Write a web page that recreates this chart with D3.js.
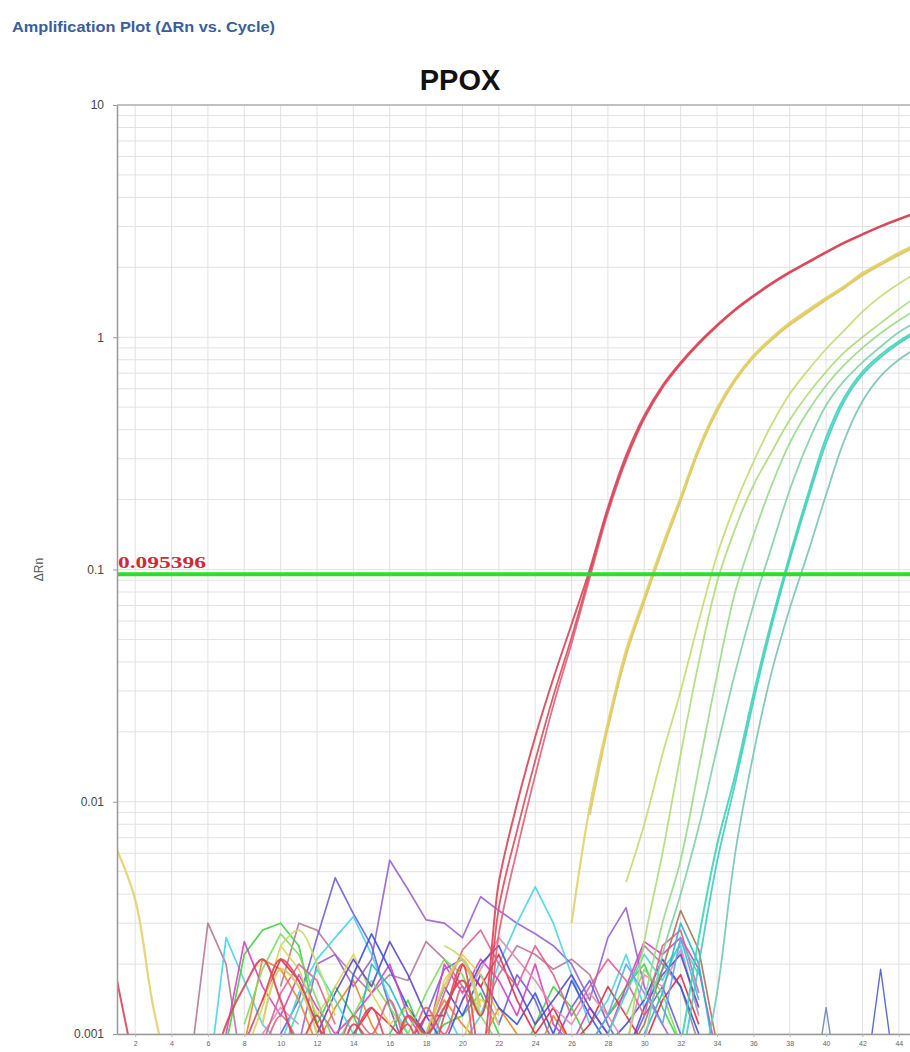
<!DOCTYPE html>
<html>
<head>
<meta charset="utf-8">
<script src="https://cdn.jsdelivr.net/npm/d3@7"></script>
<style>
  body { margin: 0; background: #fff; }
  svg { display: block; font-family: "Liberation Sans", Arial, sans-serif; }
</style>
</head>
<body>
<div id="amp_plot"></div>
<script>
// null = negative dRn (no point on a log axis)
var _ = null;

var cycles = [1,2,3,4,5,6,7,8,9,10,11,12,13,14,15,16,17,18,19,20,21,22,23,24,25,26,27,28,29,30,
              31,32,33,34,35,36,37,38,39,40,41,42,43,44,45];
var xTickValues = [2,4,6,8,10,12,14,16,18,20,22,24,26,28,30,32,34,36,38,40,42,44];
var yTickValues = [0.001, 0.01, 0.1, 1, 10];
var yTickLabels = ["0.001", "0.01", "0.1", "1", "10"];
var threshold = 0.095396;
var thresholdLabel = "0.095396";
var target = "PPOX";

// amplified wells (cycles 1-15 / 16-30 / 31-45)
var red1 = [0.0017,0.0007,_,_,_,0.0006,0.0011,0.0016,0.0021,0.0014,0.0009,0.0012,0.0007,0.0011,0.0009,
            0.0008,0.0012,0.0010,0.0013,0.0017,0.0012,0.0045,0.0098,0.019,0.034,0.058,0.100,0.185,0.31,0.46,
            0.62,0.78,0.95,1.13,1.32,1.51,1.71,1.91,2.11,2.33,2.56,2.78,3.01,3.23,3.45];
var red2 = [_,_,0.0013,_,_,_,_,0.0009,0.0014,0.0021,0.0017,0.0011,0.0008,0.0010,0.0013,
            0.0009,0.0011,0.0007,0.0012,0.0020,0.0008,0.0035,0.0075,0.0150,0.0285,0.051,0.096,0.18,0.30,0.45,
            0.61,0.77,0.94,1.12,1.31,1.50,1.70,1.90,2.10,2.32,2.55,2.77,3.00,3.22,3.44];
var red3 = [_,_,_,_,_,_,_,_,0.0008,0.0012,0.0009,_,0.0007,0.0012,0.0010,
            0.0014,0.0009,0.0013,0.0010,0.0016,0.0006,0.0027,0.0062,0.013,0.026,0.048,0.092,0.175,0.295,0.445,
            0.605,0.765,0.935,1.115,1.305,1.495,1.69,1.89,2.09,2.31,2.54,2.76,2.99,3.21,3.43];
var yel1 = [0.0062,0.0038,0.0013,0.0006,_,_,_,_,_,_,_,_,_,_,_,
            _,_,_,_,0.0009,0.0014,0.0011,_,_,_,0.0030,0.0095,0.022,0.045,0.076,
            0.127,0.205,0.335,0.495,0.665,0.835,0.995,1.155,1.31,1.48,1.66,1.89,2.09,2.31,2.52];
var yel2 = [_,_,_,_,_,_,_,_,0.0011,0.0019,0.0016,0.0010,_,_,_,
            _,_,0.0010,0.0016,0.0021,0.0013,_,_,_,_,_,0.0088,0.021,0.043,0.073,
            0.122,0.198,0.325,0.48,0.65,0.82,0.975,1.13,1.28,1.45,1.63,1.85,2.05,2.26,2.46];
var yel3 = [_,_,_,_,_,_,_,_,_,_,_,_,_,_,_,
            _,_,_,_,_,_,_,_,_,_,_,_,0.021,0.043,0.074,
            0.124,0.20,0.33,0.487,0.657,0.827,0.985,1.14,1.295,1.465,1.645,1.87,2.07,2.285,2.49];
var grnA = [_,_,_,_,_,_,_,_,_,0.0024,0.0028,0.0020,0.0012,_,_,
            _,_,_,0.0024,0.0021,0.0012,_,_,_,_,_,_,_,0.0045,0.0080,
            0.0160,0.030,0.060,0.115,0.19,0.29,0.42,0.57,0.72,0.89,1.07,1.29,1.50,1.70,1.90];
var grnB = [_,_,_,_,_,_,_,_,_,_,_,_,_,_,_,
            _,_,_,_,_,_,_,_,_,_,_,_,_,0.0008,0.0025,
            0.0060,0.016,0.040,0.088,0.15,0.23,0.32,0.44,0.57,0.71,0.86,1.00,1.15,1.32,1.50];
var grnC = [_,_,_,_,_,_,_,_,_,_,_,_,_,_,_,
            _,_,_,_,_,_,_,_,_,_,_,_,_,_,0.0014,
            0.0030,0.0056,0.014,0.035,0.080,0.14,0.23,0.35,0.48,0.62,0.76,0.90,1.04,1.18,1.32];
var grnD = [_,_,_,_,_,_,_,_,_,_,_,_,_,_,_,
            _,_,_,_,_,_,_,_,_,_,_,_,_,_,0.0009,
            0.0022,0.0040,0.0078,0.017,0.036,0.070,0.125,0.22,0.35,0.51,0.65,0.78,0.91,1.05,1.17];
var teal1 = [_,_,_,_,_,_,_,_,_,_,_,_,_,_,_,
             _,_,_,_,_,_,_,_,_,_,_,_,_,_,_,
             0.0004,0.0009,0.0026,0.0065,0.0130,0.029,0.060,0.115,0.21,0.37,0.55,0.71,0.84,0.96,1.07];
var teal2 = [_,_,_,_,_,_,_,_,_,_,_,_,_,_,_,
             _,_,_,_,_,_,_,_,_,_,_,_,_,_,_,
             _,0.0007,0.0020,0.0055,0.0120,0.027,0.057,0.110,0.20,0.35,0.53,0.69,0.82,0.94,1.05];
var teal3 = [_,_,_,_,_,_,_,_,_,_,_,_,_,_,_,
             _,_,_,_,_,_,_,_,_,_,_,_,_,_,_,
             _,_,0.0006,0.0015,0.0060,0.016,0.036,0.068,0.118,0.21,0.36,0.53,0.68,0.80,0.90];

// non-amplified wells, baseline noise only
var mauve = [_,_,_,_,0.0007,0.0030,0.0020,0.0006,_,0.0016,0.0030,0.0028,0.0022,0.0018,0.0015,
             0.0018,0.0017,0.0025,0.0021,0.0016,0.0012,0.0018,0.0024,0.0022,0.0019,0.0021,0.0018,0.0012,0.0015,0.0024,
             0.0020,0.0016,0.0009,_,_,_,_,_,_,_,_,_,_,_,_];
var purple = [_,_,_,_,_,_,_,_,_,_,0.0009,0.0020,0.0022,0.0016,0.0021,
              0.0056,0.0042,0.0031,0.0030,0.0026,0.0039,0.0034,0.0030,0.0027,0.0024,0.0020,0.0014,0.0026,0.0035,0.0016,
              0.0011,0.0008,_,_,_,_,_,_,_,_,_,_,_,_,_];
var violet = [_,_,_,_,_,_,_,_,_,0.0010,0.0014,0.0026,0.0047,0.0033,0.0024,
              0.0013,0.0008,0.0012,0.0019,0.0021,0.0016,0.0011,0.0018,0.0014,0.0009,0.0013,0.0017,0.0011,0.0008,0.0012,
              0.0016,0.0010,_,_,_,_,_,_,_,_,_,_,_,_,_];
var cyan = [_,_,_,_,_,0.0006,0.0026,0.0017,0.0011,0.0009,0.0015,0.0021,0.0026,0.0032,0.0022,
            0.0014,0.0010,0.0008,0.0013,0.0009,0.0012,0.0020,0.0030,0.0043,0.0030,0.0018,0.0011,0.0014,0.0022,0.0013,
            0.0019,0.0024,0.0012,_,_,_,_,_,_,_,_,_,_,_,_];
var green = [_,_,_,_,_,_,0.0009,0.0022,0.0028,0.0030,0.0024,0.0011,0.0016,0.0012,0.0008,
             0.0010,0.0014,0.0009,0.0011,0.0012,0.0015,0.0010,0.0007,0.0011,0.0016,0.0013,0.0009,0.0012,0.0016,0.0020,
             0.0013,0.0009,_,_,_,_,_,_,_,_,_,_,_,_,_];
var orange = [_,_,_,_,_,_,_,0.0009,0.0021,0.0019,0.0014,0.0009,0.0013,0.0017,0.0011,
              0.0008,0.0012,0.0010,0.0014,0.0011,0.0009,0.0013,0.0010,0.0008,0.0012,0.0009,_,_,_,_,
              _,_,_,_,_,_,_,_,_,_,_,_,_,_,_];
var blue = [_,_,_,_,_,_,_,_,_,_,_,0.0007,0.0009,0.0018,0.0027,
            0.0019,0.0013,0.0010,0.0016,0.0012,0.0018,0.0013,0.0011,0.0015,0.0010,0.0017,0.0012,0.0009,0.0011,0.0014,
            0.0021,0.0016,0.0010,_,_,_,_,_,_,_,_,_,_,_,_];
var magenta = [_,_,_,_,_,_,0.0010,0.0025,0.0016,0.0012,0.0018,0.0013,0.0010,0.0012,0.0015,
               0.0020,0.0012,0.0009,0.0020,0.0015,0.0021,0.0017,0.0012,0.0020,0.0011,0.0009,0.0013,0.0010,0.0016,0.0025,
               0.0022,0.0026,0.0019,0.0008,_,_,_,_,_,_,_,_,_,_,_];
var crimson = [_,_,_,_,_,_,_,_,0.0014,0.0021,0.0017,0.0011,0.0008,0.0010,0.0013,
               0.0011,0.0009,0.0012,0.0012,0.0020,0.0016,0.0022,0.0014,0.0010,0.0013,0.0009,0.0011,0.0016,0.0012,0.0009,
               0.0014,0.0018,0.0011,_,_,_,_,_,_,_,_,_,_,_,_];
var pink = [_,_,_,_,_,_,_,_,0.0010,0.0013,0.0011,_,_,_,_,
            _,_,_,_,0.0014,0.0019,0.0026,0.0021,0.0017,0.0013,0.0011,0.0015,0.0012,0.0009,0.0018,
            0.0016,0.0023,0.0012,_,_,_,_,_,_,_,_,_,_,_,_];
var olive = [_,_,_,_,_,_,_,0.0008,0.0013,0.0024,0.0019,0.0012,0.0016,0.0022,0.0015,
             0.0011,0.0013,0.0009,0.0017,0.0022,0.0018,0.0012,_,_,_,_,_,_,_,_,
             _,_,_,_,_,_,_,_,_,_,_,_,_,_,_];
var lime = [_,_,_,_,_,_,_,0.0011,0.0019,0.0027,0.0022,0.0014,0.0009,0.0012,0.0017,
            0.0013,0.0010,0.0015,0.0021,0.0018,0.0012,0.0009,_,_,_,_,_,_,0.0012,0.0019,
            0.0015,0.0009,_,_,_,_,_,_,_,_,_,_,_,_,_];
var indigo = [_,_,_,_,_,_,_,_,_,_,_,0.0010,0.0015,0.0021,0.0016,
              0.0025,0.0018,0.0012,0.0009,0.0014,0.0020,0.0024,0.0016,0.0011,0.0014,0.0018,0.0013,0.0010,0.0008,0.0013,
              0.0018,0.0022,0.0013,_,_,_,_,_,_,_,_,_,_,_,_];
var rose = [_,_,_,_,_,_,_,_,0.0009,0.0015,0.0020,0.0017,0.0011,_,_,
            _,_,0.0009,0.0015,0.0023,0.0028,0.0020,0.0016,0.0024,0.0018,0.0012,0.0016,0.0021,0.0017,0.0012,
            0.0024,0.0028,0.0015,_,_,_,_,_,_,_,_,_,_,_,_];
var aqua = [_,_,_,_,_,_,_,_,_,0.0008,0.0013,0.0019,0.0014,0.0010,_,
            _,_,_,_,_,_,_,_,_,_,_,_,0.0010,0.0015,0.0022,
            0.0017,0.0025,0.0018,_,_,_,_,_,_,_,_,_,_,_,_];
var tealNoise = [_,_,_,_,_,_,_,_,_,_,_,_,_,0.0009,0.0020,
                 0.0016,0.0011,_,_,_,_,_,_,_,_,_,_,_,_,0.0010,
                 0.0015,0.0030,0.0020,0.0007,_,_,_,_,_,_,_,_,_,_,_];
var skyBlue = [_,_,_,_,_,_,_,_,_,_,_,_,_,_,_,
               _,_,_,_,_,_,_,_,_,_,_,0.0009,0.0012,0.0020,0.0015,
               0.0011,0.0026,0.0014,_,_,_,_,_,_,_,_,_,_,_,_];
var brown = [_,_,_,_,_,_,_,_,_,_,_,_,_,_,_,
             _,_,_,_,_,_,_,_,_,_,_,_,_,0.0008,0.0011,
             0.0019,0.0034,0.0023,0.0009,_,_,_,_,_,_,_,_,_,_,_];
var slate = [_,_,_,_,_,_,_,_,_,_,_,_,_,_,_,
             _,_,_,_,_,_,_,_,_,_,_,_,_,_,_,
             _,_,_,_,_,_,_,_,0.0004,0.0013,0.0004,_,_,_,_];
var navy = [_,_,_,_,_,_,_,_,_,_,_,_,_,_,_,
            _,_,_,_,_,_,_,_,_,_,_,_,_,_,_,
            _,_,_,_,_,_,_,_,_,_,_,0.0005,0.0019,0.0005,_];

// amp: true = amplified well, drawn with a smooth curve
var wells = [
  {values: mauve, color: "#b57a9a", w: 1.7},
  {values: purple, color: "#9a62d2", w: 1.7},
  {values: violet, color: "#6f5fd8", w: 1.7},
  {values: cyan, color: "#48d4e4", w: 1.7},
  {values: green, color: "#44d044", w: 1.7},
  {values: orange, color: "#f08424", w: 1.7},
  {values: blue, color: "#3552e0", w: 1.7},
  {values: magenta, color: "#d444c4", w: 1.7},
  {values: crimson, color: "#e42a48", w: 1.7},
  {values: pink, color: "#e48cb4", w: 1.7},
  {values: olive, color: "#dcd454", w: 1.7},
  {values: lime, color: "#80dc60", w: 1.7},
  {values: indigo, color: "#5a48c8", w: 1.7},
  {values: rose, color: "#e06090", w: 1.7},
  {values: aqua, color: "#40dcc0", w: 1.7},
  {values: tealNoise, color: "#2eb4c8", w: 1.7},
  {values: skyBlue, color: "#5ea4f0", w: 1.7},
  {values: brown, color: "#a87458", w: 1.7},
  {values: slate, color: "#7080b8", w: 1.4},
  {values: navy, color: "#4a5ad0", w: 1.4},
  {values: teal3, color: "#78c4b4", w: 1.8, amp: true},
  {values: teal2, color: "#40ccc0", w: 1.8, amp: true},
  {values: teal1, color: "#3cd4b4", w: 2, amp: true},
  {values: grnD, color: "#80d0a8", w: 1.8, amp: true},
  {values: grnC, color: "#98dc88", w: 1.8, amp: true},
  {values: grnB, color: "#aedc7a", w: 1.8, amp: true},
  {values: grnA, color: "#c2dc70", w: 1.8, amp: true},
  {values: yel3, color: "#e6d47a", w: 2.2, amp: true},
  {values: yel2, color: "#dcc862", w: 2.2, amp: true},
  {values: yel1, color: "#e3d06a", w: 2.2, amp: true},
  {values: red3, color: "#e0607a", w: 1.8, amp: true},
  {values: red2, color: "#dc4a5c", w: 1.8, amp: true},
  {values: red1, color: "#d84658", w: 2, amp: true}
];

var W = 910, H = 1052;
var plot = {left: 117, top: 105, bottom: 1034, right: 917};

var svg = d3.select("#amp_plot")
  .append("svg")
  .attr("width", W)
  .attr("height", H);

var x = d3.scaleLinear()
  .domain([1, 45])
  .range([plot.left, plot.right]);

var y = d3.scaleLog()
  .domain([0.001, 10])
  .range([plot.bottom, plot.top]);

svg.append("defs").append("clipPath")
  .attr("id", "plotClip")
  .append("rect")
  .attr("x", plot.left)
  .attr("y", plot.top)
  .attr("width", plot.right - plot.left)
  .attr("height", plot.bottom - plot.top);

// header + title
svg.append("text")
  .attr("x", 12)
  .attr("y", 32)
  .attr("font-size", 15)
  .attr("font-weight", "bold")
  .attr("fill", "#3a5e9c")
  .attr("textLength", 263)
  .attr("lengthAdjust", "spacingAndGlyphs")
  .text("Amplification Plot (\u0394Rn vs. Cycle)");

svg.append("text")
  .attr("x", 460)
  .attr("y", 90)
  .attr("text-anchor", "middle")
  .attr("font-size", 29)
  .attr("font-weight", "bold")
  .attr("fill", "#111")
  .text(target);

// grid
var grid = svg.append("g");
grid.selectAll(".hgrid")
  .data(y.ticks())
  .enter().append("line")
  .attr("x1", plot.left).attr("x2", plot.right)
  .attr("y1", function(d) { return y(d); })
  .attr("y2", function(d) { return y(d); })
  .attr("stroke", "#e2e2e2")
  .attr("stroke-width", 1);
grid.selectAll(".vgrid")
  .data(xTickValues)
  .enter().append("line")
  .attr("x1", function(d) { return x(d); })
  .attr("x2", function(d) { return x(d); })
  .attr("y1", plot.top).attr("y2", plot.bottom)
  .attr("stroke", "#e2e2e2")
  .attr("stroke-width", 1);

// top border
svg.append("line")
  .attr("x1", plot.left).attr("x2", plot.right)
  .attr("y1", plot.top).attr("y2", plot.top)
  .attr("stroke", "#b0b0b0")
  .attr("stroke-width", 1.5);

// curves
var line = d3.line()
  .defined(function(d) { return d.v != null && d.v > 0; })
  .x(function(d) { return x(d.c); })
  .y(function(d) { return y(d.v); });

var curves = svg.append("g").attr("clip-path", "url(#plotClip)");
wells.forEach(function(s) {
  var pts = cycles.map(function(c, i) { return {c: c, v: s.values[i]}; });
  line.curve(s.amp ? d3.curveCatmullRom.alpha(0.5) : d3.curveLinear);
  curves.append("path")
    .datum(pts)
    .attr("fill", "none")
    .attr("stroke", s.color)
    .attr("stroke-width", s.w)
    .attr("stroke-opacity", 0.9)
    .attr("stroke-linejoin", "round")
    .attr("d", line);
});

// threshold
svg.append("line")
  .attr("x1", plot.left).attr("x2", plot.right)
  .attr("y1", y(threshold)).attr("y2", y(threshold))
  .attr("stroke", "#30dc30")
  .attr("stroke-width", 4);

svg.append("text")
  .attr("x", plot.left + 1)
  .attr("y", y(threshold) - 6)
  .attr("font-family", "'Liberation Serif', 'Times New Roman', serif")
  .attr("font-size", 16)
  .attr("font-weight", "bold")
  .attr("fill", "#d02a3a")
  .attr("textLength", 88)
  .attr("lengthAdjust", "spacingAndGlyphs")
  .text(thresholdLabel);

// axes
var yAxis = d3.axisLeft(y)
  .tickValues(yTickValues)
  .tickFormat(function(d, i) { return yTickLabels[i]; })
  .tickSize(4)
  .tickSizeOuter(0)
  .tickPadding(9);
var gy = svg.append("g")
  .attr("transform", "translate(" + plot.left + ",0)")
  .call(yAxis);
gy.select(".domain").attr("stroke", "#999").attr("stroke-width", 1.5);
gy.selectAll(".tick line").attr("stroke", "#999");
gy.selectAll(".tick text")
  .attr("font-size", 12)
  .attr("fill", "#444")
  .attr("font-family", "'Liberation Sans', Arial, sans-serif");

var xAxis = d3.axisBottom(x)
  .tickValues(xTickValues)
  .tickSize(3)
  .tickSizeOuter(0)
  .tickPadding(4);
var gx = svg.append("g")
  .attr("transform", "translate(0," + plot.bottom + ")")
  .call(xAxis);
gx.select(".domain").attr("stroke", "#999").attr("stroke-width", 1.5);
gx.selectAll(".tick line").attr("stroke", "#bbb");
gx.selectAll(".tick text")
  .attr("font-size", 7)
  .attr("fill", "#666")
  .attr("font-family", "'Liberation Sans', Arial, sans-serif");

// y axis title
svg.append("text")
  .attr("transform", "translate(43," + y(0.1) + ") rotate(-90)")
  .attr("text-anchor", "middle")
  .attr("font-size", 12)
  .attr("fill", "#555")
  .text("\u0394Rn");
</script>
</body>
</html>
